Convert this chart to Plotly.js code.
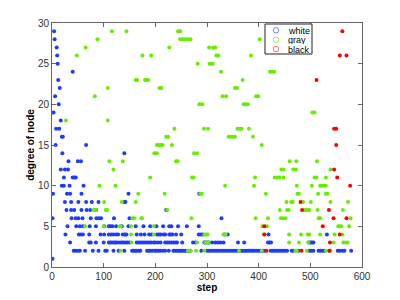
<!DOCTYPE html>
<html>
<head>
<meta charset="utf-8">
<script src="https://cdn.plot.ly/plotly-3.0.1.min.js"></script>
<style>html,body{margin:0;padding:0;background:#fff;}#chart{width:400px;height:300px;}</style>
</head>
<body>
<div id="chart"></div>
<script>
// Each row: [degree of node, [steps at which a node of that degree was seen]]
const whiteRows = [
  [29,[4]],[28,[5]],[27,[9]],[26,[10]],[25,[11]],[24,[40]],[23,[12]],[22,[15]],
  [21,[6]],[20,[13]],[19,[3]],[18,[17]],[17,[8,14]],[16,[19,21]],[15,[7,66]],
  [14,[20,140]],[13,[32,50,56]],[12,[17,25,31]],[11,[23,40,43,46]],[10,[19,23,34,61]],
  [9,[2,29,35,57,148,285]],
  [8,[25,37,51,66,77,90,140,142]],
  [7,[28,37,43,57,67,74,85,221]],
  [6,[1,38,46,51,59,75,86,91,95,120,150,328]],
  [5,[30,47,54,60,73,85,101,110,113,117,124,135,148,162,177,190,202,215,227,231,244,261,284]],
  [4,[26,52,56,60,72,94,101,110,115,119,124,128,137,141,144,164,172,179,188,193,203,207,210,216,219,227,230,233,240,250,284,288,292,334,340,419,532]],
  [3,[35,72,75,85,100,110,113,116,120,123,126,131,135,138,142,146,150,164,168,172,176,180,184,188,192,197,200,205,210,219,223,227,231,235,239,242,252,273,278,295,297,300,304,310,316,321,326,332,360,372,418,421,424,497,500,503,506]],
  [2,[42,46,50,54,64,79,90,103,106,119,129,140,155,158,161,164,168,171,184,187,190,194,199,202,206,210,215,219,226,235,238,242,245,248,251,254,258,261,265,268,289,300,304,308,312,316,320,324,328,332,336,340,344,348,352,356,360,364,368,372,376,380,384,388,392,396,400,404,408,412,423,427,431,435,439,443,447,451,455,464,468,477,498,502,506,516,520,524,528,537,553,557,562,566,579]],
  [1,[1]]
];
const grayRows = [
  [29,[116,144,244,248]],
  [28,[88,248,253,258,263,268,402]],
  [27,[65,227,304,312,316]],
  [26,[48,175,192,318,322,385]],
  [25,[282,305,307,311]],
  [24,[327,422,426,430]],
  [23,[162,165,180,183,186,369]],
  [22,[108,208,212,354,358]],
  [21,[83,330,337,395,399]],
  [20,[285,291,371,375,379]],
  [19,[504,508]],
  [18,[27,108]],
  [17,[237,294,302,359,363,367,381]],
  [16,[221,225,342,346,350,354,389]],
  [15,[203,207,210,214,232,406]],
  [14,[198,203,275,281]],
  [13,[111,137,240,243,460,473,513]],
  [12,[119,444,448,467,472,539]],
  [11,[190,271,274,393,431,436,440,448,508,512,530]],
  [10,[92,123,335,391,474,503,519,523,527,530]],
  [9,[167,218,287,290,414,475,478,515,530,533]],
  [8,[101,135,162,454,463,466,486,501,539,573]],
  [7,[80,84,104,107,223,441,455,458,488,492,495,498,514,563]],
  [6,[156,159,173,174,270,394,418,443,447,452,516,519,578]],
  [5,[64,100,131,133,153,197,407,416,554,557,560,575]],
  [4,[153,197,295,298,301,332,336,410,459,482,495,498,519,547,562]],
  [3,[154,281,297,300,303,459,478,496,545,564,568,572]],
  [2,[133,263,268,279,295,362,406,471,474,493,530,539]]
];
const blackRows = [
  [29,[562]],[26,[557,570]],[23,[512]],[17,[546,550]],[15,[550]],[12,[546]],
  [11,[552]],[10,[577]],[8,[481]],[7,[484,536]],[6,[545,570]],[5,[411,524]],
  [4,[411,557]],[3,[538]],[2,[415,483,537]]
];
const seriesNames = ['white','gray','black'];
const xTicks = [0,100,200,300,400,500,600];
const yTicks = [0,5,10,15,20,25,30];

function flatten(rows){
  const x=[],y=[];
  rows.forEach(r=>r[1].forEach(s=>{x.push(s);y.push(r[0]);}));
  return {x,y};
}
const colors = ['#1e3cff','#66ee00','#ff0000'];
const legendColors = ['#6f7fff','#8cf060','#ff7070'];
const traces = [whiteRows,grayRows,blackRows].map((rows,i)=>{
  const d = flatten(rows);
  return {type:'scatter',mode:'markers',x:d.x,y:d.y,name:seriesNames[i],
    marker:{color:colors[i],size:4,line:{width:0}},showlegend:false,hoverinfo:'x+y'};
});

// plot area in pixels
const L=52,R=362,T=23,B=267;
const px=v=>(v-L)/(R-L), py=v=>(B-v)/(B-T);
const shapes=[{type:'rect',xref:'paper',yref:'paper',x0:px(265),x1:px(312),y0:py(24),y1:py(54),
  line:{color:'#222',width:1},fillcolor:'#fff',layer:'above'}];
const annotations=[];
const rowsY=[30.3,39.7,49];
seriesNames.forEach((n,i)=>{
  shapes.push({type:'circle',xref:'paper',yref:'paper',x0:px(273.3),x1:px(278.7),y0:py(rowsY[i]-2.7),y1:py(rowsY[i]+2.7),
    line:{color:legendColors[i],width:1},layer:'above'});
  annotations.push({xref:'paper',yref:'paper',x:px(287),y:py(rowsY[i]),xanchor:'left',yanchor:'middle',
    text:n,showarrow:false,height:9,valign:'middle',borderpad:0,
    font:{family:'Arial, Liberation Sans, sans-serif',size:9,color:'#000'}});
});

const axisCommon = {showgrid:false,zeroline:false,showline:true,linecolor:'#666',linewidth:1,
  mirror:'ticks',ticks:'inside',ticklen:4,tickcolor:'#666',
  tickfont:{family:'Arial, Liberation Sans, sans-serif',size:10,color:'#333'}};
const layout = {
  width:400,height:300,margin:{l:L,r:400-R,t:T,b:300-B,pad:0},
  paper_bgcolor:'#fff',plot_bgcolor:'#fff',showlegend:false,
  xaxis:Object.assign({},axisCommon,{range:[0,600],tickvals:xTicks,ticktext:xTicks.map(String),
    title:{text:'<b>step</b>',font:{family:'Arial, Liberation Sans, sans-serif',size:10,color:'#000'},standoff:1}}),
  yaxis:Object.assign({},axisCommon,{range:[0,30],tickvals:yTicks,ticktext:yTicks.map(String),
    title:{text:'<b>degree of node</b>',font:{family:'Arial, Liberation Sans, sans-serif',size:10,color:'#000'},standoff:1}}),
  shapes:shapes,annotations:annotations
};
Plotly.newPlot('chart',traces,layout,{staticPlot:true,displayModeBar:false});
</script>
</body>
</html>
